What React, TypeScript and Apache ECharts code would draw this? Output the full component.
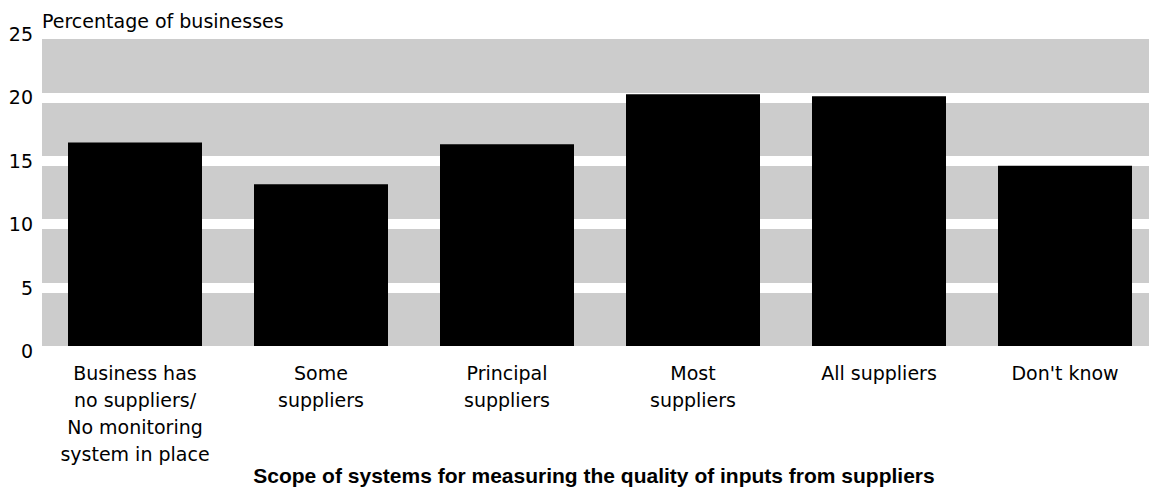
import React, { useEffect, useRef } from "react";
import * as echarts from "echarts";

const categories = [
  "Business has\nno suppliers/\nNo monitoring\nsystem in place",
  "Some\nsuppliers",
  "Principal\nsuppliers",
  "Most\nsuppliers",
  "All suppliers",
  "Don't know",
];
const values = [16.45, 13.15, 16.3, 20.25, 20.1, 14.6];
const yAxisTitle = "Percentage of businesses";
const xAxisTitle = "Scope of systems for measuring the quality of inputs from suppliers";

export default function App() {
  const ref = useRef<HTMLDivElement>(null);
  useEffect(() => {
    if (!ref.current) return;
    const chart = echarts.init(ref.current, undefined, { renderer: "svg" });
    const font = "DejaVu Sans";
    chart.setOption({
      animation: false,
      backgroundColor: "#ffffff",
      grid: {
        left: 42,
        top: 34,
        right: 0,
        bottom: 137,
        show: true,
        backgroundColor: "#cccccc",
        borderWidth: 0,
      },
      xAxis: {
        type: "category",
        data: categories,
        axisLine: { show: false },
        axisTick: { show: false },
        axisLabel: {
          color: "#000",
          fontFamily: font,
          fontSize: 19,
          lineHeight: 27,
          margin: 8,
          interval: 0,
        },
      },
      yAxis: {
        type: "value",
        min: 0,
        max: 25,
        interval: 5,
        axisLine: { show: false },
        axisTick: { show: false },
        axisLabel: {
          color: "#000",
          fontFamily: font,
          fontSize: 19,
          margin: 9,
        },
        splitLine: { show: true, lineStyle: { color: "#ffffff", width: 10 } },
      },
      series: [
        {
          type: "bar",
          data: values,
          barWidth: 134,
          itemStyle: { color: "#000000" },
        },
      ],
      graphic: [
        {
          type: "rect",
          z: 100,
          shape: { x: 42, y: 346, width: 1116, height: 11 },
          style: { fill: "#ffffff" },
        },
        {
          type: "text",
          z: 101,
          x: 42,
          y: 21,
          style: {
            text: yAxisTitle,
            fontFamily: font,
            fontSize: 19,
            fill: "#000",
            textAlign: "left",
            textVerticalAlign: "middle",
          },
        },
        {
          type: "text",
          z: 101,
          x: 594,
          y: 475,
          style: {
            text: xAxisTitle,
            fontFamily: "Liberation Sans",
            fontWeight: "bold",
            fontSize: 21,
            fill: "#000",
            textAlign: "center",
            textVerticalAlign: "middle",
          },
        },
      ],
    });
    return () => chart.dispose();
  }, []);
  return (
    <div
      ref={ref}
      style={{ position: "fixed", left: 0, top: 0, width: 1158, height: 488 }}
    />
  );
}
